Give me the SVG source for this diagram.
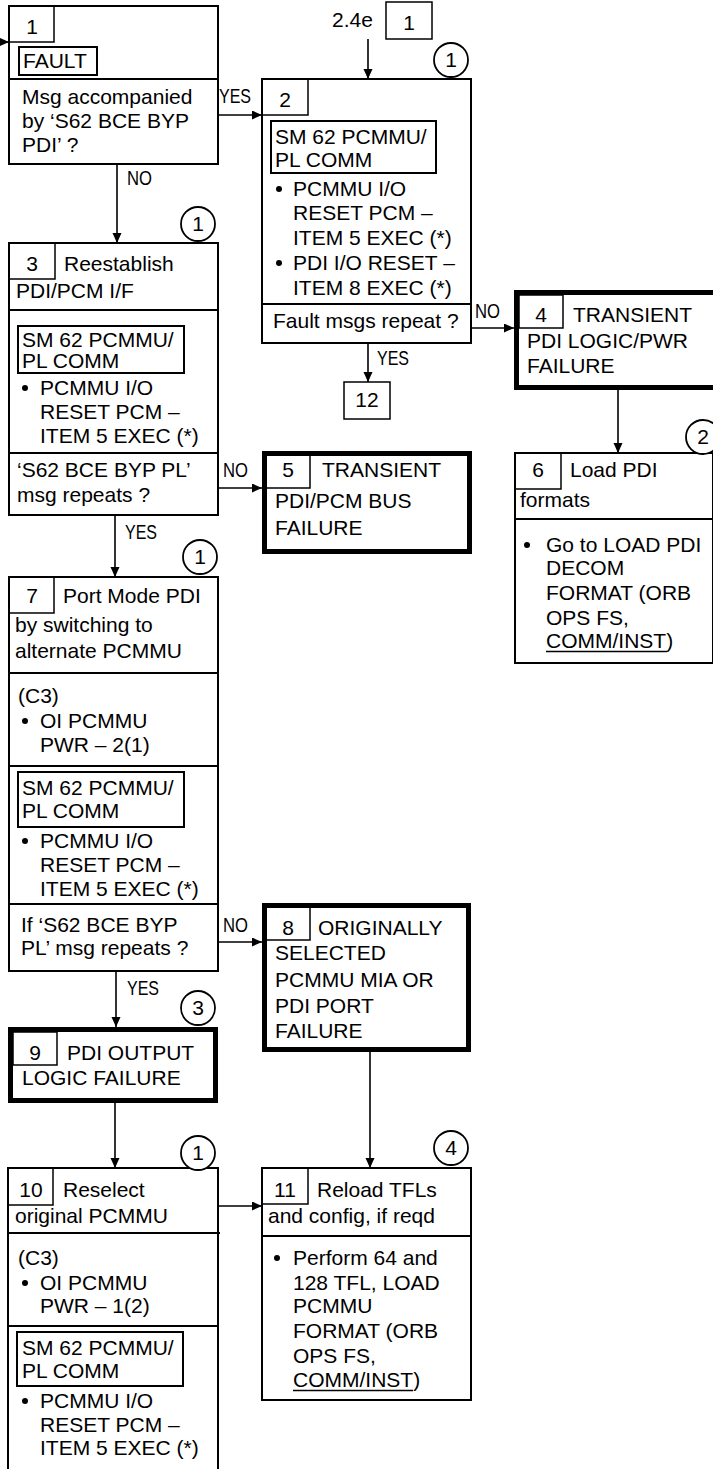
<svg xmlns="http://www.w3.org/2000/svg" width="713" height="1469" viewBox="0 0 713 1469">
<style>
text{font-family:"Liberation Sans",Arial,sans-serif;font-size:21px;fill:#000}
.lbl{font-size:20px}
.c{text-anchor:middle}
.box{fill:#fff;stroke:#000;stroke-width:2}
.thick{fill:#fff;stroke:#000;stroke-width:5}
.nb{fill:none;stroke:#000;stroke-width:1.5}
.ln{fill:none;stroke:#000;stroke-width:2}
.circ{fill:#fff;stroke:#000;stroke-width:1.8}
.con{fill:none;stroke:#000;stroke-width:1.6}
.arr{marker-end:url(#ah)}
.bul{fill:#000}
</style>
<defs>
<marker id="ah" markerUnits="userSpaceOnUse" markerWidth="10" markerHeight="10" refX="10" refY="4.5" orient="auto">
<path d="M0,0 L10,4.5 L0,9 z" fill="#000"/>
</marker>
</defs>
<rect width="713" height="1469" fill="#fff"/>

<g id="connectors">
<line class="con arr" x1="0" y1="42" x2="9" y2="42"/>
<line class="con arr" x1="218" y1="115" x2="262" y2="115"/>
<text class="lbl" x="219" y="103" textLength="32" lengthAdjust="spacingAndGlyphs">YES</text>
<line class="con arr" x1="117" y1="164" x2="117" y2="243"/>
<text class="lbl" x="127" y="185" textLength="25" lengthAdjust="spacingAndGlyphs">NO</text>
<line class="con arr" x1="368" y1="39" x2="368" y2="79"/>
<line class="con arr" x1="368" y1="343" x2="368" y2="382"/>
<text class="lbl" x="377" y="365" textLength="32" lengthAdjust="spacingAndGlyphs">YES</text>
<line class="con arr" x1="471" y1="328" x2="514" y2="328"/>
<text class="lbl" x="475" y="318" textLength="25" lengthAdjust="spacingAndGlyphs">NO</text>
<line class="con arr" x1="618" y1="390" x2="618" y2="453"/>
<line class="con arr" x1="218" y1="488" x2="262" y2="488"/>
<text class="lbl" x="223" y="477" textLength="25" lengthAdjust="spacingAndGlyphs">NO</text>
<line class="con arr" x1="115" y1="515" x2="115" y2="577"/>
<text class="lbl" x="125" y="539" textLength="32" lengthAdjust="spacingAndGlyphs">YES</text>
<line class="con arr" x1="218" y1="942" x2="262" y2="942"/>
<text class="lbl" x="223" y="932" textLength="25" lengthAdjust="spacingAndGlyphs">NO</text>
<line class="con arr" x1="116" y1="971" x2="116" y2="1027"/>
<text class="lbl" x="127" y="995" textLength="32" lengthAdjust="spacingAndGlyphs">YES</text>
<line class="con arr" x1="370" y1="1052" x2="370" y2="1168"/>
<line class="con arr" x1="115" y1="1103" x2="115" y2="1168"/>
<line class="con arr" x1="218" y1="1206" x2="262" y2="1206"/>
</g>

<g id="ref-2-4e">
<text x="332" y="27">2.4e</text>
<rect class="nb" x="386" y="2" width="46" height="37"/>
<text class="c" x="409" y="30">1</text>
</g>

<g id="node1">
<rect class="box" x="9" y="6" width="209" height="158"/>
<rect class="nb" x="9" y="6" width="45" height="36"/>
<text class="c" x="32" y="34">1</text>
<rect class="ln" x="19" y="47" width="78" height="28"/>
<text x="23" y="68">FAULT</text>
<line class="ln" x1="9" y1="79" x2="218" y2="79"/>
<text x="22" y="104">Msg accompanied</text>
<text x="22" y="128">by ‘S62 BCE BYP</text>
<text x="22" y="152">PDI’ ?</text>
</g>

<g id="node2">
<rect class="box" x="262" y="79" width="209" height="264"/>
<rect class="nb" x="262" y="79" width="46" height="36"/>
<text class="c" x="285" y="107">2</text>
<rect class="ln" x="271" y="121" width="165" height="52"/>
<text x="275" y="144">SM 62 PCMMU/</text>
<text x="275" y="167">PL COMM</text>
<circle class="bul" cx="279" cy="189" r="3"/>
<text x="293" y="196">PCMMU I/O</text>
<text x="293" y="220">RESET PCM –</text>
<text x="293" y="245">ITEM 5 EXEC (*)</text>
<circle class="bul" cx="279" cy="263" r="3"/>
<text x="293" y="270">PDI I/O RESET –</text>
<text x="293" y="295">ITEM 8 EXEC (*)</text>
<line class="ln" x1="262" y1="304" x2="471" y2="304"/>
<text x="273" y="328">Fault msgs repeat ?</text>
<circle class="circ" cx="451" cy="60" r="17"/>
<text class="c" x="451" y="67">1</text>
</g>

<g id="node12">
<rect class="nb" x="344" y="382" width="46" height="37"/>
<text class="c" x="367" y="407">12</text>
</g>

<g id="node3">
<rect class="box" x="9" y="243" width="209" height="272"/>
<rect class="nb" x="9" y="243" width="46" height="36"/>
<text class="c" x="32" y="271">3</text>
<text x="64" y="271">Reestablish</text>
<text x="16" y="298">PDI/PCM I/F</text>
<line class="ln" x1="9" y1="310" x2="218" y2="310"/>
<rect class="ln" x="18" y="326" width="166" height="47"/>
<text x="22" y="347">SM 62 PCMMU/</text>
<text x="22" y="368">PL COMM</text>
<circle class="bul" cx="25" cy="388" r="3"/>
<text x="40" y="395">PCMMU I/O</text>
<text x="40" y="419">RESET PCM –</text>
<text x="40" y="443">ITEM 5 EXEC (*)</text>
<line class="ln" x1="9" y1="453" x2="218" y2="453"/>
<text x="17" y="477">‘S62 BCE BYP PL’</text>
<text x="17" y="502">msg repeats ?</text>
<circle class="circ" cx="198" cy="224" r="17"/>
<text class="c" x="198" y="231">1</text>
</g>

<g id="node4">
<rect class="thick" x="516.5" y="292.5" width="200" height="95"/>
<rect class="nb" x="519" y="295" width="44" height="33"/>
<text class="c" x="541" y="322">4</text>
<text x="573" y="322">TRANSIENT</text>
<text x="527" y="348">PDI LOGIC/PWR</text>
<text x="527" y="373">FAILURE</text>
</g>

<g id="node5">
<rect class="thick" x="264.5" y="453.5" width="205" height="98"/>
<rect class="nb" x="266" y="455" width="44" height="33"/>
<text class="c" x="288" y="477">5</text>
<text x="322" y="477">TRANSIENT</text>
<text x="275" y="508">PDI/PCM BUS</text>
<text x="275" y="535">FAILURE</text>
</g>

<g id="node6">
<rect class="box" x="515" y="453" width="198" height="210"/>
<rect class="nb" x="515" y="453" width="46" height="36"/>
<text class="c" x="538" y="477">6</text>
<text x="570" y="477">Load PDI</text>
<text x="520" y="507">formats</text>
<line class="ln" x1="515" y1="519" x2="713" y2="519"/>
<circle class="bul" cx="527" cy="545" r="3"/>
<text x="546" y="552">Go to LOAD PDI</text>
<text x="546" y="575">DECOM</text>
<text x="546" y="600">FORMAT (ORB</text>
<text x="546" y="625">OPS FS,</text>
<text x="546" y="648">COMM/INST)</text>
<line x1="546" y1="651.5" x2="667" y2="651.5" stroke="#000" stroke-width="1.5"/>
<circle class="circ" cx="703" cy="437" r="17"/>
<text class="c" x="703" y="444">2</text>
</g>

<g id="node7">
<rect class="box" x="9" y="577" width="209" height="394"/>
<rect class="nb" x="9" y="577" width="45" height="36"/>
<text class="c" x="32" y="603">7</text>
<text x="63" y="603">Port Mode PDI</text>
<text x="15" y="632">by switching to</text>
<text x="15" y="658">alternate PCMMU</text>
<line class="ln" x1="9" y1="673" x2="218" y2="673"/>
<text x="18" y="703">(C3)</text>
<circle class="bul" cx="25" cy="721" r="3"/>
<text x="40" y="728">OI PCMMU</text>
<text x="40" y="752">PWR – 2(1)</text>
<line class="ln" x1="9" y1="766" x2="218" y2="766"/>
<rect class="ln" x="18" y="772" width="166" height="55"/>
<text x="22" y="795">SM 62 PCMMU/</text>
<text x="22" y="818">PL COMM</text>
<circle class="bul" cx="25" cy="841" r="3"/>
<text x="40" y="848">PCMMU I/O</text>
<text x="40" y="872">RESET PCM –</text>
<text x="40" y="896">ITEM 5 EXEC (*)</text>
<line class="ln" x1="9" y1="904" x2="218" y2="904"/>
<text x="21" y="932">If ‘S62 BCE BYP</text>
<text x="21" y="955">PL’ msg repeats ?</text>
<circle class="circ" cx="200" cy="557" r="17"/>
<text class="c" x="200" y="564">1</text>
</g>

<g id="node8">
<rect class="thick" x="264.5" y="905.5" width="204" height="144"/>
<rect class="nb" x="266" y="907" width="44" height="33"/>
<text class="c" x="288" y="935">8</text>
<text x="318" y="935">ORIGINALLY</text>
<text x="275" y="960">SELECTED</text>
<text x="275" y="987">PCMMU MIA OR</text>
<text x="275" y="1013">PDI PORT</text>
<text x="275" y="1038">FAILURE</text>
</g>

<g id="node9">
<rect class="thick" x="10.5" y="1029.5" width="205" height="71"/>
<rect class="nb" x="13" y="1032" width="44" height="33"/>
<text class="c" x="35" y="1060">9</text>
<text x="67" y="1060">PDI OUTPUT</text>
<text x="22" y="1085">LOGIC FAILURE</text>
<circle class="circ" cx="198" cy="1008" r="17"/>
<text class="c" x="198" y="1015">3</text>
</g>

<g id="node10">
<path class="ln" d="M8,1475 V1168 H218 V1475" fill="#fff"/>
<rect class="nb" x="8" y="1168" width="45" height="37"/>
<text class="c" x="31" y="1197">10</text>
<text x="63" y="1197">Reselect</text>
<text x="15" y="1223">original PCMMU</text>
<line class="ln" x1="8" y1="1233" x2="220" y2="1233"/>
<text x="18" y="1265">(C3)</text>
<circle class="bul" cx="25" cy="1283" r="3"/>
<text x="40" y="1290">OI PCMMU</text>
<text x="40" y="1313">PWR – 1(2)</text>
<line class="ln" x1="8" y1="1326" x2="218" y2="1326"/>
<rect class="ln" x="17" y="1332" width="166" height="54"/>
<text x="22" y="1355">SM 62 PCMMU/</text>
<text x="22" y="1378">PL COMM</text>
<circle class="bul" cx="25" cy="1401" r="3"/>
<text x="40" y="1408">PCMMU I/O</text>
<text x="40" y="1432">RESET PCM –</text>
<text x="40" y="1455">ITEM 5 EXEC (*)</text>
<circle class="circ" cx="198" cy="1153" r="17"/>
<text class="c" x="198" y="1160">1</text>
</g>

<g id="node11">
<rect class="box" x="262" y="1168" width="209" height="232"/>
<rect class="nb" x="262" y="1168" width="46" height="36"/>
<text class="c" x="285" y="1197">11</text>
<text x="317" y="1197">Reload TFLs</text>
<text x="268" y="1223">and config, if reqd</text>
<line class="ln" x1="262" y1="1236" x2="471" y2="1236"/>
<circle class="bul" cx="277" cy="1258" r="3"/>
<text x="293" y="1265">Perform 64 and</text>
<text x="293" y="1290">128 TFL, LOAD</text>
<text x="293" y="1313">PCMMU</text>
<text x="293" y="1338">FORMAT (ORB</text>
<text x="293" y="1363">OPS FS,</text>
<text x="293" y="1387">COMM/INST)</text>
<line x1="293" y1="1390.5" x2="413" y2="1390.5" stroke="#000" stroke-width="1.5"/>
<circle class="circ" cx="451" cy="1148" r="17"/>
<text class="c" x="451" y="1155">4</text>
</g>
</svg>
